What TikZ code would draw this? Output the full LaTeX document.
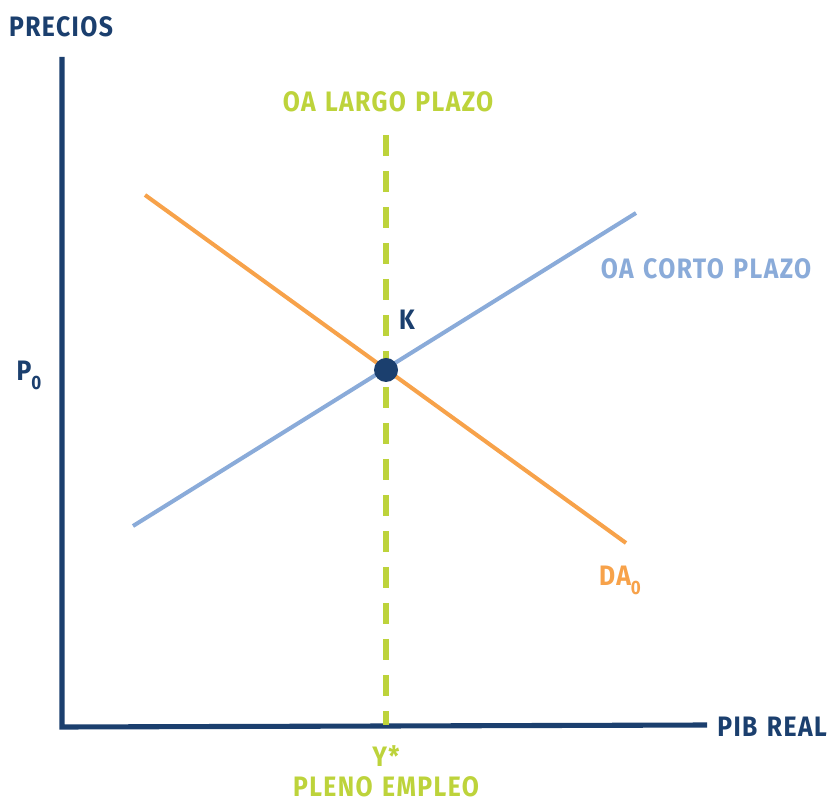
\documentclass[tikz,border=0pt]{standalone}
\usepackage{fontspec}
\setmainfont{Fira Sans}[FakeStretch=0.88,LetterSpace=5,WordSpace=1.3,BoldFont={Fira Sans Bold}]
\usepackage{xcolor}
\usepackage{tikz}

\definecolor{navy}{HTML}{1B3F6E}
\definecolor{lima}{HTML}{BDD33B}
\definecolor{naranja}{HTML}{F7A24A}
\definecolor{celeste}{HTML}{8AABD9}

\tikzset{
	etiqueta/.style={font=\bfseries\fontsize{16}{18}\selectfont, inner sep=0pt},
}

\begin{document}
\begin{tikzpicture}[x=0.02cm, y=0.02cm]

\useasboundingbox (0,0) rectangle (830,804);

% ejes
\coordinate (O) at (62,79);
\coordinate (ytop) at (62,747);
\coordinate (xend) at (707,79);
\draw[navy, line width=2.9pt] (ytop)--(62,77)--(xend);

\node[etiqueta, navy] (precios) at (61,777) {PRECIOS};
\node[etiqueta, navy] (pibreal) at (772,77) {PIB REAL};
\node[etiqueta, navy] (p0) at (29,429) {P\raisebox{-0.6ex}{\fontsize{11}{12}\selectfont 0}};

% oferta agregada de largo plazo
\coordinate (lptop) at (386,669);
\coordinate (lpbot) at (386,79);
\draw[lima, line width=3.2pt, dash pattern=on 0.42cm off 0.3cm] (lptop)--(lpbot);
\node[etiqueta, lima] (oalp) at (388,702) {OA LARGO PLAZO};
\node[etiqueta, lima] (ystar) at (386,48) {Y*};
\node[etiqueta, lima] (pleno) at (386,17) {PLENO EMPLEO};

% demanda agregada
\coordinate (da1) at (145,609);
\coordinate (da2) at (626,261);
\draw[naranja, line width=2.3pt] (da1)--(da2);
\node[etiqueta, naranja] (da0) at (620,224) {DA\raisebox{-0.6ex}{\fontsize{11}{12}\selectfont 0}};

% oferta agregada de corto plazo
\coordinate (oa1) at (133,278);
\coordinate (oa2) at (636,591);
\draw[celeste, line width=2.3pt] (oa1)--(oa2);
\node[etiqueta, celeste] (oacp) at (706,535) {OA CORTO PLAZO};

% equilibrio
\fill[navy] (386,434) circle (12);
\node[etiqueta, navy] (k) at (407,484) {K};

\end{tikzpicture}
\end{document}
